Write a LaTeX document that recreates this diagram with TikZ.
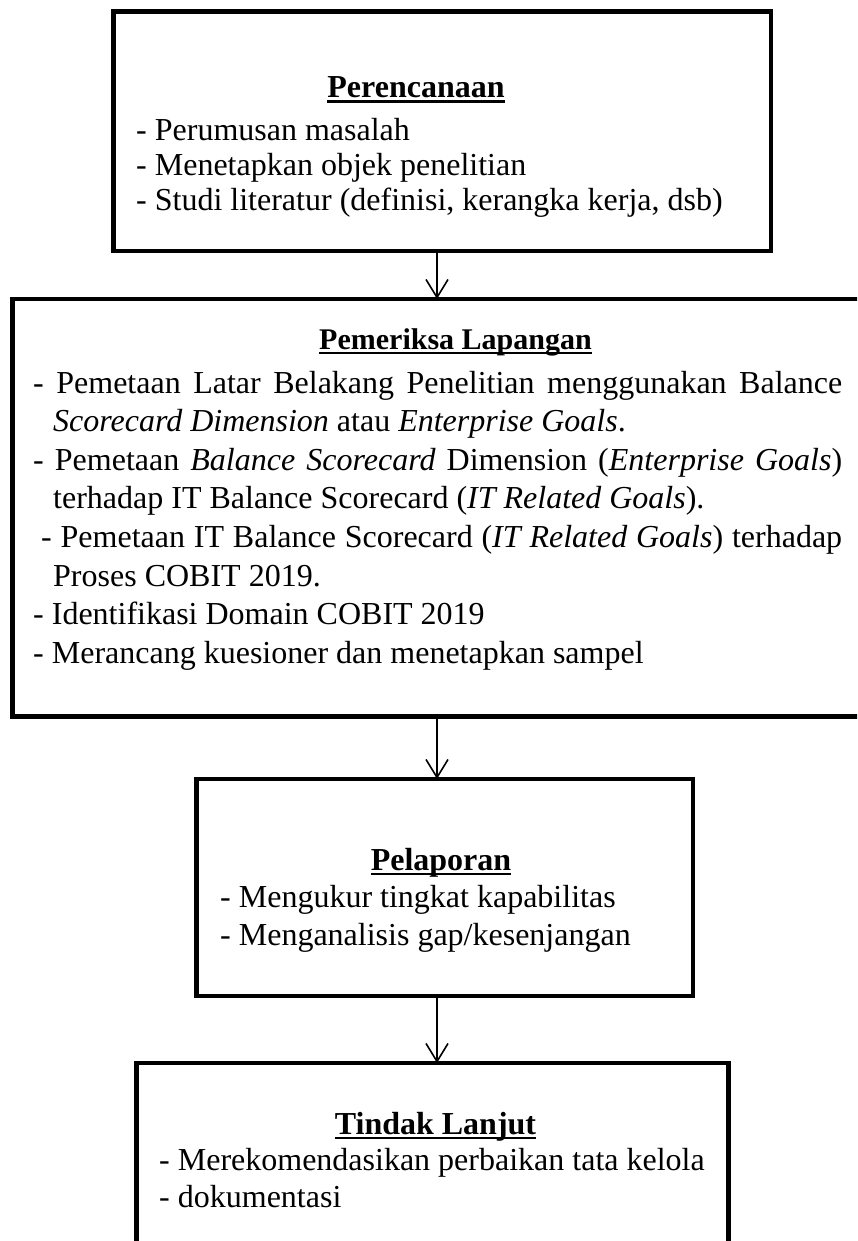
\documentclass[tikz,border=0pt]{standalone}
\usepackage{fontspec}
\setmainfont{Liberation Serif}
\usetikzlibrary{arrows.meta}
\newsavebox{\headbox}
\newcommand{\headul}[1]{\sbox\headbox{#1}\rlap{\rule[-5pt]{\wd\headbox}{2.5pt}}\usebox\headbox}

\begin{document}
\begin{tikzpicture}[x=1pt, y=-1pt, >={Straight Barb[length=18pt,width=22pt]},
	frame/.style={draw, line width=4.5pt, outer sep=0pt, inner sep=0pt},
	head/.style={anchor=base, inner sep=0pt, font=\fontsize{32}{40}\selectfont\bfseries},
	body/.style={anchor=base west, inner sep=0pt, align=flush left, font=\fontsize{32}{37}\selectfont},
	flow/.style={->, line width=1.6pt}]
	\useasboundingbox (0,0) rectangle (857,1241);
	\clip (0,0) rectangle (857,1241);
	\coordinate (axis) at (437,0);
	\node[frame, minimum width=657.5pt, minimum height=239.3pt] (plan) at (442.25,131.35) {};
	\node[frame, minimum width=851.5pt, minimum height=417.6pt] (field) at (438.25,507.8) {};
	\node[frame, minimum width=496.5pt, minimum height=217pt] (report) at (444.75,887.5) {};
	\node[frame, minimum width=592pt, minimum height=227pt] (follow) at (432.5,1176.5) {};
	\node[head] (planhead) at (416,98) {\headul{Perencanaan}};
	\node[body, text width=640pt, font=\fontsize{32}{35}\selectfont] (plantext) at (136,141) {- Perumusan masalah\\- Menetapkan objek penelitian\\- Studi literatur (definisi, kerangka kerja, dsb)};
	\node[head, font=\fontsize{30}{40}\selectfont\bfseries] (fieldhead) at (455.5,349) {\headul{Pemeriksa Lapangan}};
	\node[body, text width=809pt, align=justify, font=\fontsize{32}{38.6}\selectfont] (fieldtext) at (33,393) {%
		\hangindent=20pt\hangafter=1 - Pemetaan Latar Belakang Penelitian menggunakan Balance\linebreak \textit{Scorecard Dimension} atau \textit{Enterprise Goals}.\par
		\hangindent=20pt\hangafter=1 - Pemetaan \textit{Balance Scorecard} Dimension (\textit{Enterprise Goals})\linebreak terhadap IT Balance Scorecard (\textit{IT Related Goals}).\par
		\hangindent=20pt\hangafter=1 \hspace*{8pt}- Pemetaan IT Balance Scorecard (\textit{IT Related Goals}) terhadap\linebreak Proses COBIT 2019.\par
		- Identifikasi Domain COBIT 2019\par
		- Merancang kuesioner dan menetapkan sampel\par};
	\node[head] (reporthead) at (441,870) {\headul{Pelaporan}};
	\node[body, text width=460pt, font=\fontsize{32}{38}\selectfont] (reporttext) at (220,907) {- Mengukur tingkat kapabilitas\\- Menganalisis gap/kesenjangan};
	\node[head] (followhead) at (435.5,1134) {\headul{Tindak Lanjut}};
	\node[body, text width=560pt] (followtext) at (159,1170) {- Merekomendasikan perbaikan tata kelola\\- dokumentasi};
	\foreach \a/\b in {plan/field, field/report, report/follow}
		\draw[flow] (\a.south -| axis) -- (\b.north -| axis);
\end{tikzpicture}
\end{document}
